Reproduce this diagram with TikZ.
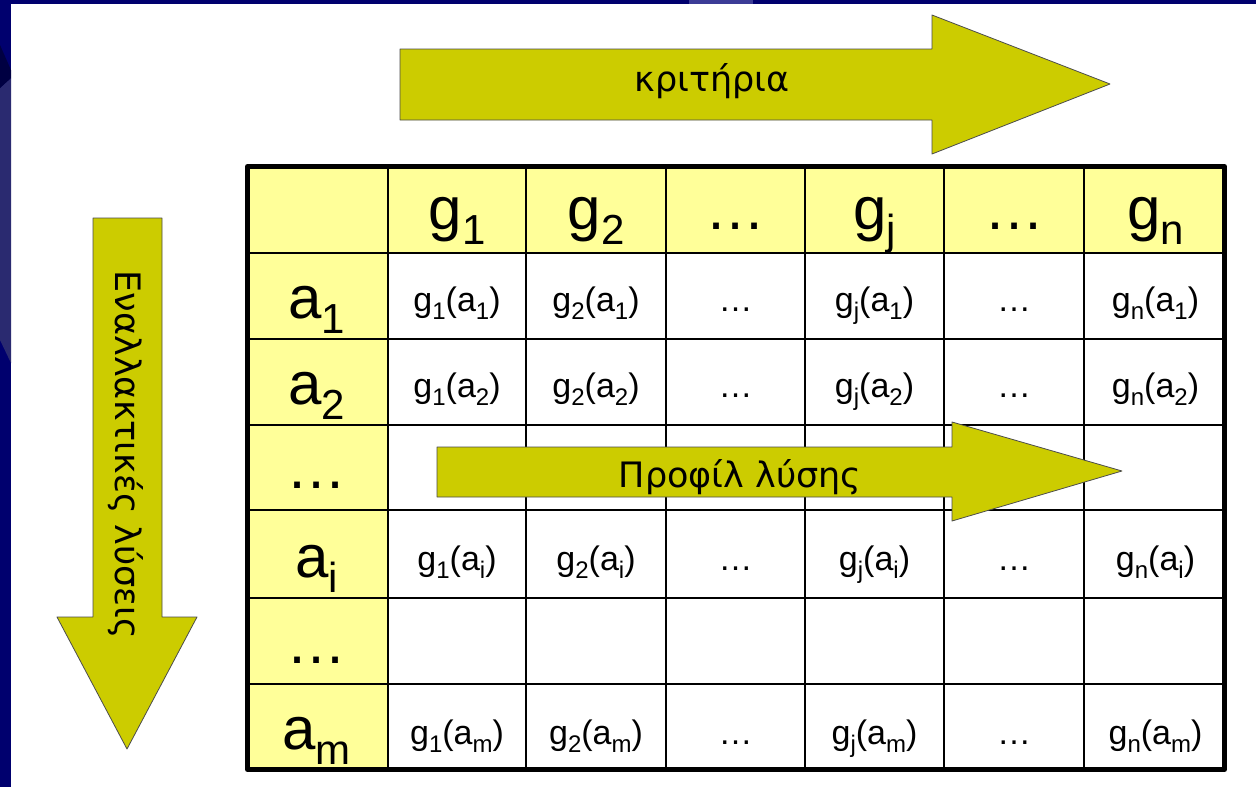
\documentclass[tikz,border=0pt]{standalone}
\usepackage{fontspec}
\setmainfont{Liberation Sans}
\newfontfamily\arrowfont{DejaVu Sans}
\definecolor{slidenavy}{RGB}{0,0,110}
\definecolor{slidepatch}{RGB}{42,42,112}
\definecolor{topatch}{RGB}{60,60,150}
\definecolor{headyellow}{RGB}{255,255,153}
\definecolor{arrowolive}{RGB}{204,204,0}
% subscripts for the big labels and for the cells
\newcommand{\hsub}[2]{#1\raisebox{-15pt}{\fontsize{42}{42}\selectfont #2}}
\newcommand{\csub}[2]{#1\raisebox{-8pt}{\fontsize{24}{24}\selectfont #2}}
\begin{document}
\begin{tikzpicture}[x=1pt,y=-1pt,line cap=round,line join=round,
	bigarrow/.style={fill=arrowolive,draw=black!70,line width=0.8pt},
	gridline/.style={line width=1.8pt},
	headtext/.style={anchor=base,inner sep=0pt,font=\fontsize{60}{60}\selectfont},
	celltext/.style={anchor=base,inner sep=0pt,font=\fontsize{34}{34}\selectfont},
	arrowtext/.style={anchor=base,inner sep=0pt,font=\arrowfont\fontsize{35}{35}\selectfont}]
	\useasboundingbox (0,0) rectangle (1256,787);
	% slide background
	\fill[white] (0,0) rectangle (1256,787);
	\fill[slidenavy] (0,0) rectangle (1256,4);
	\fill[slidenavy] (0,0) rectangle (11,787);
	\fill[topatch] (689,0) rectangle (753,4);
	\fill[slidepatch] (0,88) -- (11,78) -- (11,363) -- (0,340) -- cycle;
	\fill[black!40!slidenavy] (0,45) -- (11,70) -- (11,78) -- (0,88) -- cycle;
	% table
	\fill[headyellow] (247,167) rectangle (1225,253);
	\fill[headyellow] (247,253) rectangle (388,770);
	\foreach \x in {388,526,666,805,944,1084}
		\draw[gridline] (\x,167) -- (\x,769);
	\foreach \y in {253,339,425,510,598,684}
		\draw[gridline] (247,\y) -- (1225,\y);
	\draw[line width=5pt] (247.5,166.5) rectangle (1224.5,769.5);
	% header row and column
	\foreach \cx/\lab/\k in {457/\hsub{g}{1}/1,596/\hsub{g}{2}/2,735.5/…/3,874.5/\hsub{g}{j}/4,1014/…/5,1155.5/\hsub{g}{n}/6}
		\node[headtext] (h\k) at (\cx,229) {\lab};
	\foreach \ry/\lab/\k in {318/\hsub{a}{1}/1,404/\hsub{a}{2}/2,488/…/3,577/\hsub{a}{i}/4,663/…/5,749/\hsub{a}{m}/6}
		\node[headtext] (r\k) at (316.5,\ry) {\lab};
	% cells
	\foreach \ry/\rs/\rn in {311/1/1,397/2/2,570/i/4,744/m/6}{
		\foreach \cx/\cs/\cn in {457/1/1,596/2/2,874.5/j/4,1155.5/n/6}
			\node[celltext] (c\rn\cn) at (\cx,\ry) {\csub{g}{\cs}(\csub{a}{\rs})};
		\node[celltext] (c\rn3) at (735.5,\ry) {…};
		\node[celltext] (c\rn5) at (1014,\ry) {…};
	}
	% arrows
	\filldraw[bigarrow] (400,49) -- (932,49) -- (932,15) -- (1110,84) -- (932,154) -- (932,120) -- (400,120) -- cycle;
	\filldraw[bigarrow] (93,218) -- (162,218) -- (162,617) -- (197,617) -- (127,749) -- (57,617) -- (93,617) -- cycle;
	\filldraw[bigarrow] (437,447) -- (952,447) -- (952,422) -- (1122,471) -- (952,521) -- (952,497) -- (437,497) -- cycle;
	\node[arrowtext] (crit) at (712,91) {κριτήρια};
	\node[arrowtext,rotate=-90] (alt) at (115,455) {Εναλλακτικές λύσεις};
	\node[arrowtext] (prof) at (740,487) {Προφίλ λύσης};
\end{tikzpicture}
\end{document}
